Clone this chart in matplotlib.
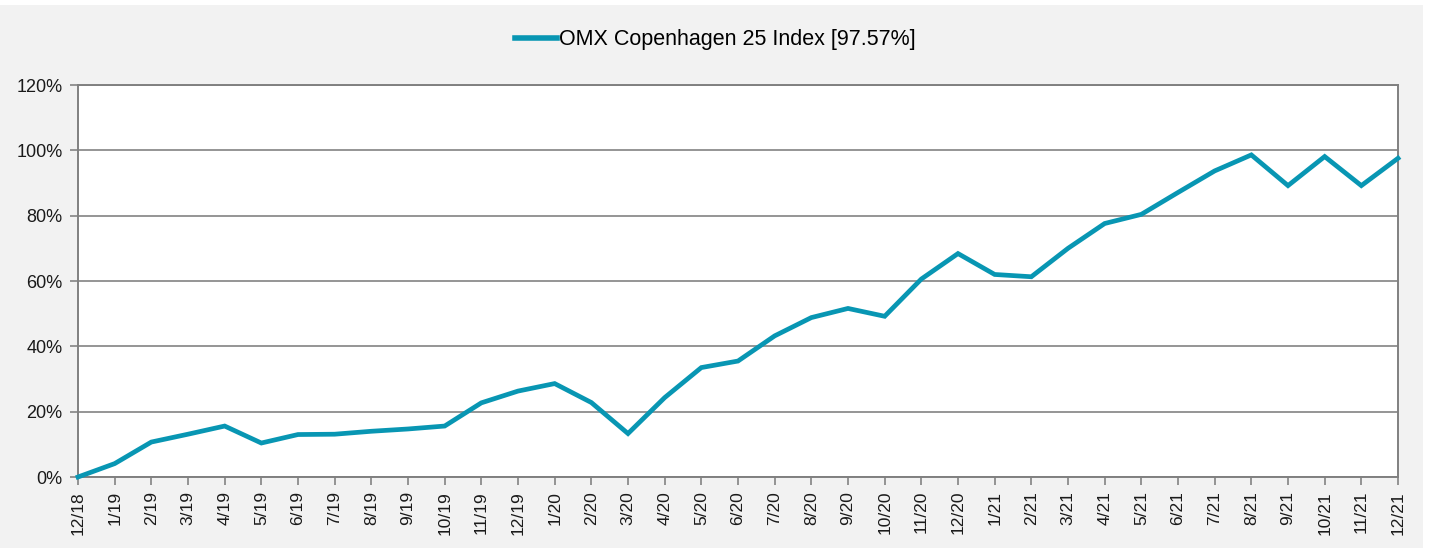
import matplotlib
matplotlib.use("Agg")
import matplotlib.pyplot as plt
from matplotlib.patches import Rectangle

plt.rcParams['font.family'] = ['Liberation Sans', 'DejaVu Sans']

# month labels and cumulative return (%)
months = ['12/18', '1/19', '2/19', '3/19', '4/19', '5/19', '6/19', '7/19', '8/19', '9/19',
          '10/19', '11/19', '12/19', '1/20', '2/20', '3/20', '4/20', '5/20', '6/20', '7/20',
          '8/20', '9/20', '10/20', '11/20', '12/20', '1/21', '2/21', '3/21', '4/21', '5/21',
          '6/21', '7/21', '8/21', '9/21', '10/21', '11/21', '12/21']
omx_c25 = [0.0, 4.1, 10.7, 13.1, 15.6, 10.4, 13.0, 13.1, 14.0, 14.7,
           15.6, 22.7, 26.3, 28.6, 22.8, 13.3, 24.3, 33.5, 35.5, 43.2,
           48.8, 51.6, 49.2, 60.6, 68.4, 62.0, 61.3, 70.0, 77.6, 80.4,
           87.1, 93.7, 98.6, 89.2, 98.1, 89.2, 97.57]
series_name = 'OMX Copenhagen 25 Index [97.57%]'

W, H = 1430, 548
fig = plt.figure(figsize=(W / 100, H / 100), dpi=100, facecolor='white')
# gray chart area background
fig.patches.append(Rectangle((0, 0), 1423 / W, (H - 5) / H, transform=fig.transFigure,
                             facecolor='#f2f2f2', edgecolor='none', zorder=-10))

ax = fig.add_axes([78 / W, (H - 477) / H, (1398 - 78) / W, (477 - 85) / H])
ax.set_zorder(1)
ax.set_facecolor('white')

x = list(range(len(months)))
ax.plot(x, omx_c25, color='#0896b3', lw=3.4, solid_joinstyle='miter', label=series_name,
        zorder=3, clip_on=False)

ax.set_xlim(0, len(months) - 1)
ax.set_ylim(0, 120)
ax.set_yticks(range(0, 121, 20))
ax.set_yticklabels([f'{v}%' for v in range(0, 121, 20)], fontsize=13, color='#1a1a1a')
ax.set_xticks(x)
ax.set_xticklabels(months, rotation=90, fontsize=12.5, color='#1a1a1a')

ax.grid(axis='y', color='#8c8c8c', lw=1.3)
ax.set_axisbelow(True)
for s in ax.spines.values():
    s.set_color('#808080')
    s.set_linewidth(1.4)
ax.tick_params(axis='both', direction='out', length=6, width=1.3, color='#8c8c8c')
ax.tick_params(axis='x', pad=4)
ax.tick_params(axis='y', pad=5)

leg = fig.legend(loc='center', bbox_to_anchor=(0.5, 1 - 40 / H), frameon=False, fontsize=15.5,
                 handlelength=1.95, handletextpad=0.1)
leg.get_lines()[0].set_linewidth(4)

fig.savefig('out.png', dpi=100, facecolor=fig.get_facecolor())
